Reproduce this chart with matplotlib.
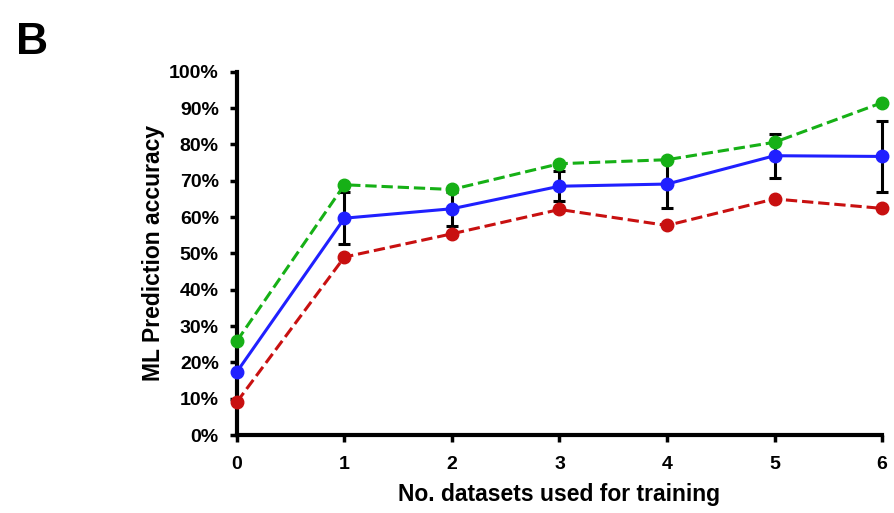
import matplotlib
matplotlib.use("Agg")
import matplotlib.pyplot as plt
from matplotlib.ticker import PercentFormatter

x = [0, 1, 2, 3, 4, 5, 6]
green = [25.9, 68.9, 67.6, 74.7, 75.8, 80.6, 91.5]
blue = [17.4, 59.7, 62.3, 68.5, 69.1, 76.9, 76.7]
blue_err = [0, 7.2, 4.7, 4.1, 6.5, 6.0, 9.8]
red = [9.1, 49.0, 55.4, 62.1, 57.7, 65.0, 62.4]

plt.rcParams['font.family'] = ['Liberation Sans', 'DejaVu Sans']
fig = plt.figure(figsize=(8.94, 5.13), dpi=100)
ax = fig.add_axes([0.265, 0.152, 0.7216, 0.708])

ax.errorbar(x, blue, yerr=blue_err, color='#2020ff', lw=2.2, marker='o', ms=9,
            ecolor='black', elinewidth=2.2, capsize=4, capthick=2.2, clip_on=False, zorder=3)
ax.plot(x, red, '--', color='#c81010', lw=2.2, marker='o', ms=9, clip_on=False, zorder=4)
ax.plot(x, green, '--', color='#16b016', lw=2.2, marker='o', ms=9, clip_on=False, zorder=4)

ax.set_xlim(0, 6)
ax.set_ylim(0, 100)
ax.set_yticks(range(0, 101, 10))
ax.yaxis.set_major_formatter(PercentFormatter(decimals=0))
ax.set_xticks(x)
for s in ['top', 'right']:
    ax.spines[s].set_visible(False)
for s in ['left', 'bottom']:
    ax.spines[s].set_linewidth(3)
ax.tick_params(width=2.5, length=5, labelsize=14, direction='out')
ax.tick_params(axis='x', pad=10)
ax.tick_params(axis='y', pad=8)
for lab in ax.get_xticklabels() + ax.get_yticklabels():
    lab.set_fontweight('bold')
ax.set_xlabel('No. datasets used for training', fontsize=16.5, fontweight='bold', labelpad=7)
ax.set_ylabel('ML Prediction accuracy', fontsize=16.5, fontweight='bold', labelpad=3)

fig.text(0.018, 0.895, 'B', fontsize=32, fontweight='bold')
fig.savefig('out.png', dpi=100)
